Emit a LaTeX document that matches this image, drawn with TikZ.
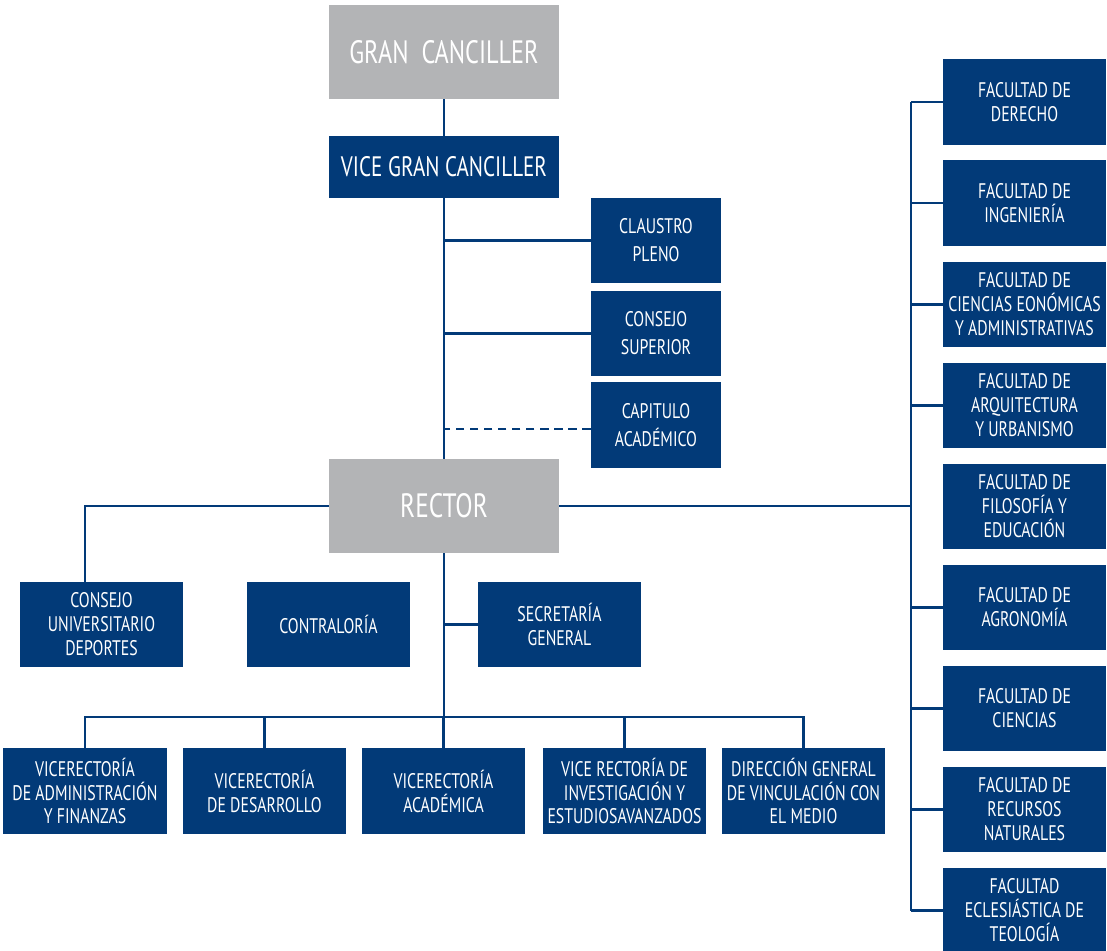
\documentclass[tikz,border=0pt]{standalone}
\usepackage{fontspec}
\setmainfont[FakeStretch=0.75]{PT Sans}
\usepackage{tikz}
\definecolor{ucblue}{HTML}{023A78}
\definecolor{ucgray}{HTML}{B3B4B6}
\tikzset{
  unit/.style={fill=ucblue, text=white, inner sep=0pt, align=center,
    minimum width=4.075cm, minimum height=2.125cm, font=\fontsize{15}{17}\selectfont},
  council/.style={unit, minimum width=3.25cm, font=\fontsize{15}{20}\selectfont},
  head/.style={fill=ucgray, text=white, inner sep=0pt, align=center,
    minimum width=5.75cm, minimum height=2.35cm},
  conn/.style={draw=ucblue, line width=1.8pt}
}
\begin{document}
\begin{tikzpicture}[x=0.025cm, y=-0.025cm]
  \useasboundingbox (0,0) rectangle (1107,951);

  \node[head, font=\fontsize{23}{26}\selectfont] (gran) at (444,52) {GRAN~~CANCILLER};
  \node[unit, minimum width=5.75cm, minimum height=1.55cm, font=\fontsize{20}{22}\selectfont] (vice) at (444,167) {VICE GRAN CANCILLER};
  \node[council] (claustro) at (656,240.5) {CLAUSTRO\\PLENO};
  \node[council] (consejoS) at (656,333.5) {CONSEJO\\SUPERIOR};
  \node[council] (capitulo) at (656,425) {CAPITULO\\ACADÉMICO};
  \node[head, font=\fontsize{24}{26}\selectfont] (rector) at (444,506) {RECTOR};

  \node[unit] (consejoU) at (101.5,624.5) {CONSEJO\\UNIVERSITARIO\\DEPORTES};
  \node[unit] (contraloria) at (328.5,624.5) {CONTRALORÍA};
  \node[unit] (secretaria) at (559.5,624.5) {SECRETARÍA\\GENERAL};

  \node[unit] (vrAdmin) at (85,791) {VICERECTORÍA\\DE ADMINISTRACIÓN\\Y FINANZAS};
  \node[unit] (vrDes) at (264.5,791) {VICERECTORÍA\\DE DESARROLLO};
  \node[unit] (vrAcad) at (443.5,791) {VICERECTORÍA\\ACADÉMICA};
  \node[unit] (vrInv) at (624.5,791) {VICE RECTORÍA DE\\INVESTIGACIÓN Y\\ESTUDIOSAVANZADOS};
  \node[unit] (dirVinc) at (803.5,791) {DIRECCIÓN GENERAL\\DE VINCULACIÓN CON\\EL MEDIO};

  \node[unit] (fDerecho) at (1024.5,102) {FACULTAD DE\\DERECHO};
  \node[unit] (fIng) at (1024.5,203) {FACULTAD DE\\INGENIERÍA};
  \node[unit] (fEcon) at (1024.5,304.5) {FACULTAD DE\\CIENCIAS EONÓMICAS\\Y ADMINISTRATIVAS};
  \node[unit] (fArq) at (1024.5,405.5) {FACULTAD DE\\ARQUITECTURA\\Y URBANISMO};
  \node[unit] (fFil) at (1024.5,506.5) {FACULTAD DE\\FILOSOFÍA Y\\EDUCACIÓN};
  \node[unit] (fAgro) at (1024.5,607.5) {FACULTAD DE\\AGRONOMÍA};
  \node[unit] (fCien) at (1024.5,708.5) {FACULTAD DE\\CIENCIAS};
  \node[unit] (fRec) at (1024.5,809.5) {FACULTAD DE\\RECURSOS\\NATURALES};
  \node[unit] (fTeo) at (1024.5,910.5) {FACULTAD\\ECLESIÁSTICA DE\\TEOLOGÍA};

  \coordinate (fbus) at (911,0);
  \coordinate (vbus) at (0,717);

  \draw[conn] (gran) -- (vice);
  \draw[conn] (vice) -- (rector);
  \draw[conn] (claustro.west) -- (claustro.west -| vice.south);
  \draw[conn] (consejoS.west) -- (consejoS.west -| vice.south);
  \draw[conn, dash pattern=on 6pt off 4pt] ([yshift=-0.1cm]capitulo.west) -- ([yshift=-0.1cm]capitulo.west -| vice.south);

  \draw[conn] (rector.west) -| (vrAdmin.north |- consejoU.north);
  \draw[conn] (secretaria.west) -- (secretaria.west -| rector.south);
  \draw[conn] (rector.south) -- (rector.south |- vbus);
  \draw[conn] (vrAdmin.north) -- (vrAdmin.north |- vbus) -- (dirVinc.north |- vbus) -- (dirVinc.north);
  \draw[conn] (vrDes.north) -- (vrDes.north |- vbus);
  \draw[conn] (vrAcad.north) -- (vrAcad.north |- vbus);
  \draw[conn] (vrInv.north) -- (vrInv.north |- vbus);

  \draw[conn] (rector.east) -- (rector.east -| fbus);
  \draw[conn] (fDerecho.west -| fbus) -- (fTeo.west -| fbus);
  \draw[conn] (fDerecho.west) -- (fDerecho.west -| fbus);
  \draw[conn] (fIng.west) -- (fIng.west -| fbus);
  \draw[conn] (fEcon.west) -- (fEcon.west -| fbus);
  \draw[conn] (fArq.west) -- (fArq.west -| fbus);
  \draw[conn] (fAgro.west) -- (fAgro.west -| fbus);
  \draw[conn] (fCien.west) -- (fCien.west -| fbus);
  \draw[conn] (fRec.west) -- (fRec.west -| fbus);
  \draw[conn] (fTeo.west) -- (fTeo.west -| fbus);
\end{tikzpicture}
\end{document}
